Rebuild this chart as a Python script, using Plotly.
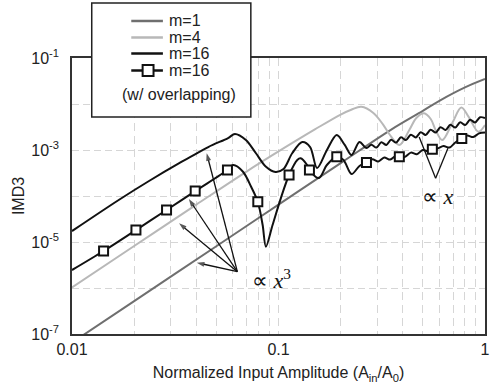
import math
import plotly.graph_objects as go

# ---------------- data ----------------
m1_x = [0.01, 0.02, 0.05, 0.1, 0.2, 0.35, 0.5, 0.61, 0.8, 1.0]
m1_y = [6.5e-8, 5.2e-7, 8.1e-6, 6.5e-5, 5.2e-4, 2.75e-3, 7.1e-3, 1.22e-2, 2.3e-2, 3.5e-2]

m4_x = [0.01, 0.02, 0.04, 0.07, 0.1, 0.15, 0.2, 0.225, 0.252, 0.288, 0.3205, 0.3445,
        0.385, 0.43, 0.465, 0.507, 0.546, 0.577, 0.621, 0.693, 0.768, 0.832, 0.929, 1.0]
m4_y = [1.03e-6, 8.2e-6, 6.5e-5, 3.4e-4, 9.3e-4, 2.8e-3, 5.9e-3, 7.5e-3, 8.7e-3, 6.4e-3, 3.6e-3, 2.2e-3,
        1.29e-3, 2.72e-3, 4.97e-3, 6.3e-3, 4.72e-3, 2.7e-3, 1.65e-3, 3.8e-3, 8.4e-3, 5.3e-3, 2.5e-3, 3.5e-3]

m16_x = [0.01, 0.01698, 0.0236, 0.0329, 0.0457, 0.0570, 0.0615, 0.0695, 0.0776, 0.0867,
         0.0967, 0.1057, 0.1167, 0.1303, 0.1423, 0.1537, 0.1716, 0.1914, 0.2093, 0.2259,
         0.2466, 0.2667, 0.2817, 0.298, 0.3146, 0.333, 0.3511, 0.371, 0.3921, 0.414,
         0.4376, 0.462, 0.4886, 0.516, 0.5455, 0.577, 0.609, 0.644, 0.6799, 0.718,
         0.7591, 0.802, 0.8475, 0.895, 0.9464, 1.0]
m16_y = [1.73e-5, 8.4e-5, 2.12e-4, 5.1e-4, 1.16e-3, 1.82e-3, 2.23e-3, 1.65e-3, 8.6e-4, 4.38e-4,
         3.33e-4, 3.86e-4, 8.6e-4, 1.49e-3, 1.16e-3, 4.06e-4, 1.0e-3, 2.12e-3, 1.29e-3, 7.8e-4,
         1.49e-3, 1.10e-3, 1.30e-3, 1.13e-3, 1.47e-3, 1.29e-3, 1.67e-3, 1.45e-3, 1.89e-3, 1.65e-3,
         2.15e-3, 1.87e-3, 2.43e-3, 2.12e-3, 2.76e-3, 2.40e-3, 3.13e-3, 2.72e-3, 3.54e-3, 3.08e-3,
         4.01e-3, 3.49e-3, 4.55e-3, 3.96e-3, 5.15e-3, 4.97e-3]

ovl_x = [0.01, 0.01422, 0.0204, 0.0287, 0.0395, 0.0566, 0.0603, 0.0673, 0.0737, 0.0794,
         0.0838, 0.0869, 0.0936, 0.1026, 0.1125, 0.1233, 0.1279, 0.1376, 0.1412, 0.1571,
         0.1715, 0.1915, 0.2064, 0.2259, 0.2466, 0.2667, 0.2847, 0.3042, 0.3251, 0.3473,
         0.371, 0.3847, 0.4098, 0.4376, 0.4676, 0.4995, 0.5337, 0.5559, 0.5893, 0.6295,
         0.6727, 0.7187, 0.7721, 0.8202, 0.8762, 0.9361, 1.0]
ovl_y = [2.46e-6, 6.37e-6, 1.82e-5, 4.96e-5, 1.28e-4, 3.67e-4, 4.72e-4, 3.37e-4, 1.59e-4, 7.5e-5,
         2.34e-5, 7.9e-6, 2.34e-5, 8.9e-5, 2.86e-4, 6.07e-4, 6.6e-4, 4.72e-4, 3.67e-4, 2.46e-4,
         4.72e-4, 7.14e-4, 6.07e-4, 3.0e-4, 4.49e-4, 5.35e-4, 6.28e-4, 5.65e-4, 6.87e-4, 6.18e-4,
         7.52e-4, 7.14e-4, 7.08e-4, 8.77e-4, 8.10e-4, 1.00e-3, 9.27e-4, 1.04e-3, 1.08e-3, 1.22e-3,
         1.13e-3, 1.46e-3, 1.78e-3, 2.06e-3, 1.91e-3, 2.30e-3, 2.40e-3]

mk_x = [0.01422, 0.0204, 0.0287, 0.0395, 0.0566, 0.0794, 0.1125, 0.1412, 0.1915, 0.2667,
        0.3847, 0.5559, 0.7721]
mk_y = [6.37e-6, 1.82e-5, 4.96e-5, 1.28e-4, 3.67e-4, 7.5e-5, 2.86e-4, 3.67e-4, 7.14e-4, 5.35e-4,
        7.14e-4, 1.04e-3, 1.78e-3]

x_major = [0.01, 0.1, 1]
x_major_text = ["0.01", "0.1", "1"]
x_minor = [0.02, 0.03, 0.04, 0.05, 0.06, 0.07, 0.08, 0.09,
           0.2, 0.3, 0.4, 0.5, 0.6, 0.7, 0.8, 0.9]
y_major = [1e-7, 1e-5, 1e-3, 1e-1]
y_major_text = ["10<sup>-7</sup>", "10<sup>-5</sup>", "10<sup>-3</sup>", "10<sup>-1</sup>"]
y_minor = [1e-6, 1e-4, 1e-2]

legend_names = ["m=1", "m=4", "m=16", "m=16"]
legend_note = "(w/ overlapping)"

# annotation geometry (pointer lines for the slope labels)
cubic_tail = (0.0632, 2.26e-6)
cubic_heads = [(0.0402, 3.55e-6), (0.0330, 2.55e-5), (0.0368, 8.6e-5), (0.0449, 8.5e-4)]
lin_tip = (0.5766, 2.43e-4)
lin_ends = [(0.480, 1.92e-3), (0.6615, 1.09e-3)]

# ---------------- styles ----------------
C_M1 = "#6f6f6f"
C_M4 = "#b8b8b8"
C_BLK = "#111111"
GRID = "#d6d6d6"
FONT = "Liberation Sans, Arial, sans-serif"
SERIF = "Liberation Serif, Times New Roman, serif"

fig = go.Figure()
fig.add_trace(go.Scatter(x=m1_x, y=m1_y, mode="lines", showlegend=False,
                         line=dict(color=C_M1, width=2, shape="spline", smoothing=1)))
fig.add_trace(go.Scatter(x=m4_x, y=m4_y, mode="lines", showlegend=False,
                         line=dict(color=C_M4, width=2, shape="spline", smoothing=1)))
fig.add_trace(go.Scatter(x=m16_x, y=m16_y, mode="lines", showlegend=False,
                         line=dict(color=C_BLK, width=2, shape="spline", smoothing=0.9)))
fig.add_trace(go.Scatter(x=ovl_x, y=ovl_y, mode="lines", showlegend=False,
                         line=dict(color=C_BLK, width=2, shape="spline", smoothing=0.9)))
fig.add_trace(go.Scatter(x=mk_x, y=mk_y, mode="markers", showlegend=False,
                         marker=dict(symbol="square", size=9, color="white",
                                     line=dict(color=C_BLK, width=2))))

# pointer arrows (x^3) and V lines (x)
for hx, hy in cubic_heads:
    fig.add_trace(go.Scatter(x=[cubic_tail[0], hx], y=[cubic_tail[1], hy], mode="lines+markers",
                             showlegend=False, hoverinfo="skip", cliponaxis=False,
                             line=dict(color=C_BLK, width=1.3),
                             marker=dict(symbol=["circle", "arrow"], size=[0, 8], angleref="previous",
                                         color=C_BLK, line=dict(width=0))))
for hx, hy in lin_ends:
    fig.add_trace(go.Scatter(x=[lin_tip[0], hx], y=[lin_tip[1], hy], mode="lines",
                             showlegend=False, hoverinfo="skip",
                             line=dict(color=C_BLK, width=1.3)))

fig.update_xaxes(
    type="log", range=[-2, 0],
    tickmode="array", tickvals=x_major, ticktext=x_major_text,
    ticklabeloverflow="allow",
    showgrid=True, gridcolor=GRID, griddash="8px,5px", gridwidth=1,
    minor=dict(tickmode="array", tickvals=x_minor, showgrid=True, gridcolor=GRID,
               griddash="8px,5px", gridwidth=1, ticks=""),
    showline=True, mirror=True, linecolor="#333333", linewidth=1.5,
    ticks="",
    tickfont=dict(family=FONT, size=16, color="#222222"),
    title=dict(text="Normalized Input Amplitude (A<sub>in</sub>/A<sub>0</sub>)",
               font=dict(family=FONT, size=16, color="#222222"), standoff=10),
    zeroline=False,
)
fig.update_yaxes(
    type="log", range=[-7, -1],
    tickmode="array", tickvals=y_major, ticktext=y_major_text,
    showgrid=True, gridcolor=GRID, griddash="7px,4px", gridwidth=1,
    minor=dict(tickmode="array", tickvals=y_minor, showgrid=True, gridcolor=GRID,
               griddash="7px,4px", gridwidth=1, ticks=""),
    showline=True, mirror=True, linecolor="#333333", linewidth=1.5,
    ticks="outside", ticklen=8, tickcolor="rgba(0,0,0,0)",
    tickfont=dict(family=FONT, size=16, color="#222222"),
    title=dict(text="IMD3", font=dict(family=FONT, size=16, color="#222222"), standoff=3),
    zeroline=False,
)

annotations = []
annotations.append(dict(x=-1.1388, y=-5.804, xref="x", yref="y", xanchor="left", yanchor="middle",
                        text="\u221d <i>x</i><sup>3</sup>", showarrow=False,
                        font=dict(family=SERIF, size=22, color=C_BLK)))
annotations.append(dict(x=-0.3158, y=-4.0, xref="x", yref="y", xanchor="left", yanchor="middle",
                        text="\u221d <i>x</i>", showarrow=False,
                        font=dict(family=SERIF, size=22, color=C_BLK)))

# manual legend
shapes = [dict(type="rect", xref="paper", yref="paper", x0=0.0478, x1=0.433, y0=0.786, y1=1.199,
               line=dict(color="#222222", width=1.5), fillcolor="white", layer="above")]
row_y = [1.1341, 1.0743, 1.0163, 0.9547]
row_c = [C_M1, C_M4, C_BLK, C_BLK]
for name, yy, cc in zip(legend_names, row_y, row_c):
    shapes.append(dict(type="line", xref="paper", yref="paper", x0=0.1435, x1=0.2201, y0=yy, y1=yy,
                       line=dict(color=cc, width=2.5), layer="above"))
    annotations.append(dict(x=0.2297, y=yy, xref="paper", yref="paper", xanchor="left",
                            yanchor="middle", text=name, showarrow=False,
                            font=dict(family=FONT, size=16, color="#222222")))
shapes.append(dict(type="rect", xref="paper", yref="paper", x0=0.1842 - 0.0132, x1=0.1842 + 0.0132,
                   y0=0.9547 - 0.02, y1=0.9547 + 0.02, line=dict(color=C_BLK, width=2),
                   fillcolor="white", layer="above"))
annotations.append(dict(x=0.2584, y=0.866, xref="paper", yref="paper", xanchor="center",
                        yanchor="middle", text=legend_note, showarrow=False,
                        font=dict(family=FONT, size=16, color="#222222")))

fig.update_layout(
    width=492, height=387,
    margin=dict(l=72, r=2, t=58, b=53),
    plot_bgcolor="white", paper_bgcolor="white",
    annotations=annotations, shapes=shapes,
    showlegend=False,
)

fig.write_html("out.html", config={"displayModeBar": False},
               post_script="document.body.style.margin='0px';")
